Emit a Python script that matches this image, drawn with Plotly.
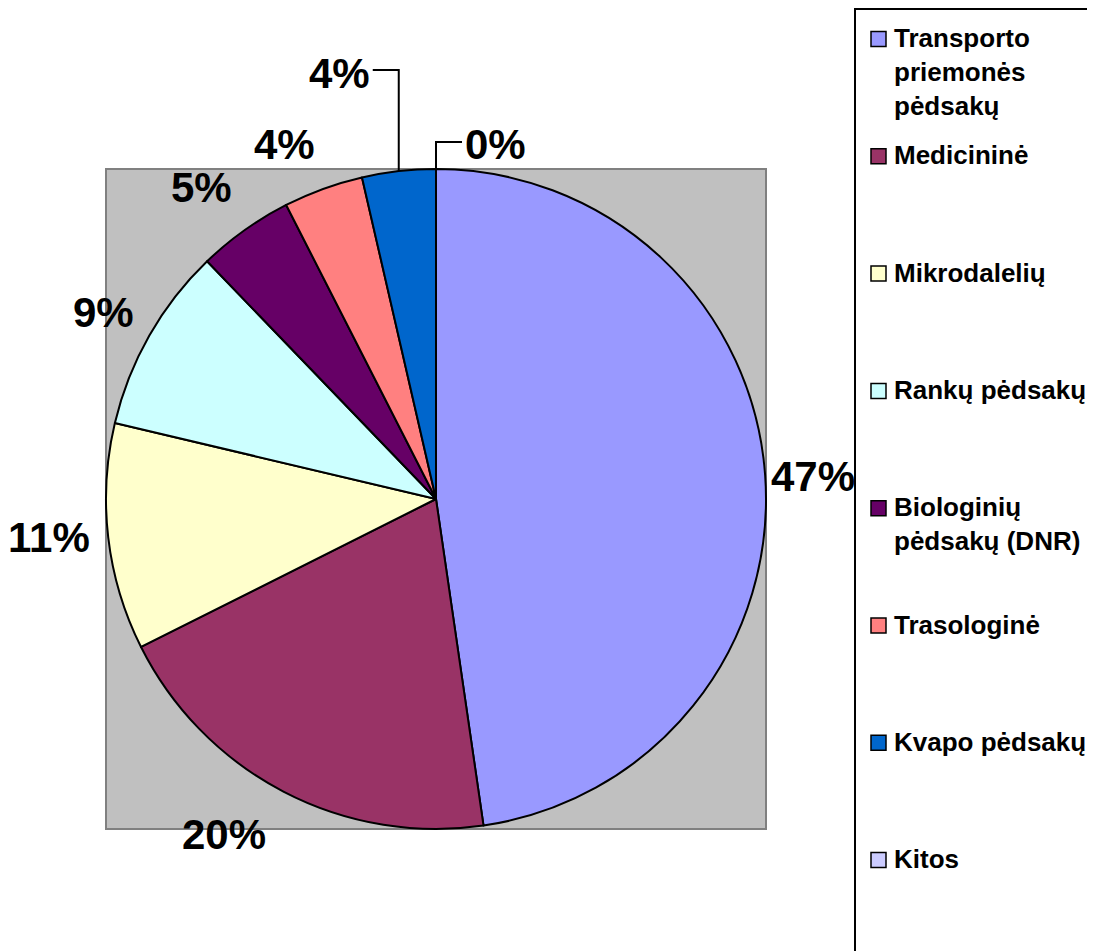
import numpy as np
import plotly.graph_objects as go

# data
categories = ["Transporto priemonės pėdsakų", "Medicininė", "Mikrodalelių", "Rankų pėdsakų",
              "Biologinių pėdsakų (DNR)", "Trasologinė", "Kvapo pėdsakų", "Kitos"]
legend_text = ["Transporto<br>priemonės<br>pėdsakų", "Medicininė", "Mikrodalelių", "Rankų pėdsakų",
               "Biologinių<br>pėdsakų (DNR)", "Trasologinė", "Kvapo pėdsakų", "Kitos"]
shares = [47.7, 19.9, 11.1, 9.1, 4.7, 3.9, 3.6, 0.0]
pct_labels = ["47%", "20%", "11%", "9%", "5%", "4%", "4%", "0%"]
colors = ["#9999FF", "#993366", "#FFFFCC", "#CCFFFF", "#660066", "#FF8080", "#0066CC", "#CCCCFF"]

# the page body has an 8px margin, so the figure sits at (8, 8) in the window
OFF = 8
W, H = 1095 - OFF, 951 - OFF
FONT = "Liberation Sans, Arial, sans-serif"

# plot area in window pixels (circle inscribed in the grey square)
cx, cy, R = 436, 499, 330


def px(x):
    return (x - OFF) / W


def py(y):
    return 1 - (y - OFF) / H


fig = go.Figure()

# grey plot area
fig.add_shape(type="rect", xref="paper", yref="paper",
              x0=px(cx - R), x1=px(cx + R), y0=py(cy + R), y1=py(cy - R),
              fillcolor="#C0C0C0", line=dict(color="#808080", width=2), layer="below")

fig.add_trace(go.Pie(
    labels=categories, values=shares, sort=False, direction="clockwise", rotation=0,
    marker=dict(colors=colors, line=dict(color="black", width=2)),
    textinfo="none", hoverinfo="label+percent", showlegend=False,
    domain=dict(x=[px(cx - R), px(cx + R)], y=[py(cy + R), py(cy - R)]),
))

# percentage labels
vals = np.array(shares)
frac = vals / vals.sum()
cum = np.cumsum(frac)
mid = (cum - frac / 2) * 360

label_font = dict(family=FONT, size=42, color="black", weight="bold")
leader_rise = {6: 99, 7: 27}  # px above the rim for the tiny top slices
nudge = {0: (-8, 5), 1: (-33, -7), 2: (-4, -6), 3: (3, 5), 4: (-11, 3), 5: (-20, 8)}

for i, ang in enumerate(mid):
    a = np.deg2rad(ang)
    if i in leader_rise:
        ex, ey = cx + R * np.sin(a), cy - R * np.cos(a)
        top = cy - R - leader_rise[i]
        side = -1 if 180 < ang < 359.5 else 1
        hx = ex + side * 26
        fig.add_shape(type="path", xref="paper", yref="paper",
                      path=f"M {px(ex)} {py(ey)} L {px(ex)} {py(top)} L {px(hx)} {py(top)}",
                      line=dict(color="black", width=2))
        fig.add_annotation(x=px(hx + side * 1), y=py(top + 3), xref="paper", yref="paper",
                           text=pct_labels[i], showarrow=False, font=label_font,
                           xanchor="right" if side < 0 else "left", yanchor="middle")
    else:
        r = R * 1.17
        dx, dy = nudge.get(i, (0, 0))
        fig.add_annotation(x=px(cx + r * np.sin(a) + dx), y=py(cy - r * np.cos(a) + dy),
                           xref="paper", yref="paper", text=pct_labels[i], showarrow=False,
                           font=label_font, xanchor="center", yanchor="middle")

# legend box (drawn by hand to get Excel-like spacing)
fig.add_shape(type="rect", xref="paper", yref="paper",
              x0=px(855), x1=px(1105), y0=py(960), y1=py(9),
              line=dict(color="black", width=2), fillcolor="rgba(0,0,0,0)")

leg_font = dict(family=FONT, size=26, color="black", weight="bold")
for i, (txt, col) in enumerate(zip(legend_text, colors)):
    yc = 39 + 117.3 * i
    fig.add_shape(type="rect", xref="paper", yref="paper",
                  x0=px(871), x1=px(886), y0=py(yc + 7.5), y1=py(yc - 7.5),
                  fillcolor=col, line=dict(color="black", width=1.5))
    fig.add_annotation(x=px(892), y=py(yc - 18), xref="paper", yref="paper",
                       text=txt, showarrow=False, font=leg_font, align="left",
                       xanchor="left", yanchor="top")

fig.update_layout(
    width=W, height=H,
    margin=dict(l=0, r=0, t=0, b=0),
    paper_bgcolor="white", plot_bgcolor="white",
    showlegend=False,
)

fig.write_html("out.html")
